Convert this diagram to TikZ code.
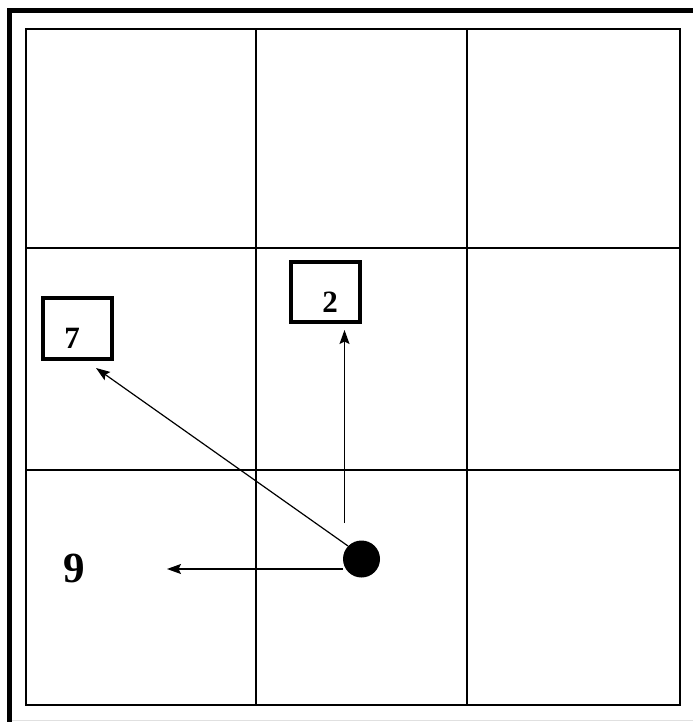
\documentclass[tikz,border=0pt]{standalone}
\usepackage{fontspec}
\setmainfont{Liberation Serif}
\usetikzlibrary{arrows.meta}
\begin{document}
\begin{tikzpicture}[x=1pt,y=-1pt,
  gridline/.style={line width=1.1pt},
  framebar/.style={line width=4.5pt},
  tagbox/.style={draw,line width=4pt,minimum width=69pt,minimum height=61pt,inner sep=0pt},
  arr/.style={line width=1.2pt,-{Stealth[length=14pt,width=10pt,inset=2.5pt]}},
  num/.style={font=\bfseries\fontsize{31}{31}\selectfont,inner sep=0pt}]
\useasboundingbox (0,0) rectangle (693,722);
% outer frame
\draw[framebar] (9.3,722) -- (9.3,10.3) -- (693,10.3);
\draw[black!12,line width=1pt] (12,720.5) -- (693,720.5);
% grid
\draw[gridline] (26,29) rectangle (680,705);
\draw[gridline] (256,29) -- (256,705);
\draw[gridline] (467,29) -- (467,705);
\draw[gridline] (26,248) -- (680,248);
\draw[gridline] (26,470) -- (680,470);
% boxes
\node[tagbox] (box7) at (77.7,328.5) {};
\node[num,anchor=base] (t7) at (72,348.5) {7};
\node[tagbox,minimum height=60pt] (box2) at (325.5,292) {};
\node[num,anchor=base] (t2) at (330,312.5) {2};
\node[num,anchor=base,font=\bfseries\fontsize{43}{43}\selectfont] (t9) at (74,582) {9};
% agent
\node[circle,fill=black,minimum size=37pt,inner sep=0pt] (ag) at (361.5,559) {};
% arrow endpoints
\coordinate (s2) at (344.5,523);
\coordinate (e2) at (344.5,330);
\coordinate (s7) at (348,546);
\coordinate (e7) at (96,368);
\coordinate (s9) at (343,569);
\coordinate (e9) at (167,569);
\draw[arr] (s2) -- (e2);
\draw[arr] (s7) -- (e7);
\draw[arr] (s9) -- (e9);
\end{tikzpicture}
\end{document}
